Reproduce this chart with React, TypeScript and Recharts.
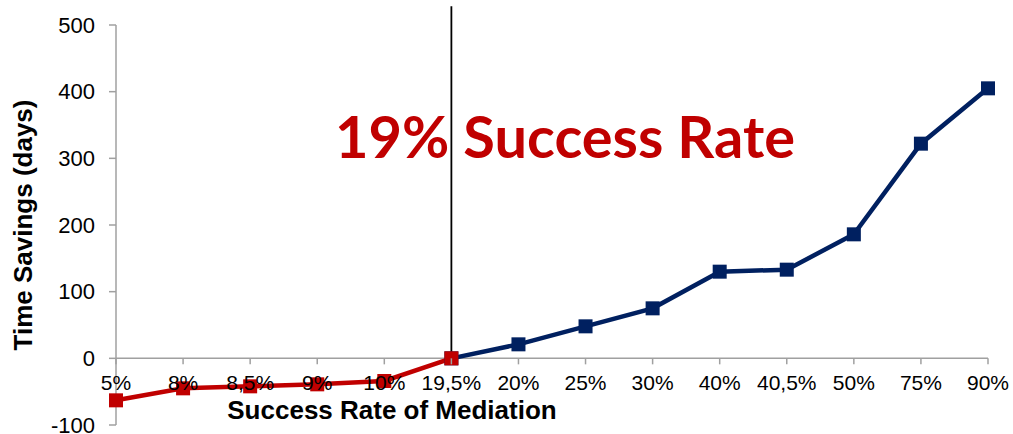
import React from 'react';
import { LineChart, Line, XAxis, YAxis, ReferenceLine, Label } from 'recharts';

const categories = ['5%', '8%', '8,5%', '9%', '10%', '19,5%', '20%', '25%', '30%', '40%', '40,5%', '50%', '75%', '90%'];
const belowValues: (number | null)[] = [-63, -45, -42, -39, -34, 0, null, null, null, null, null, null, null, null];
const aboveValues: (number | null)[] = [null, null, null, null, null, 0, 21, 48, 75, 130, 133, 186, 322, 405];
const yTicks = [-100, 0, 100, 200, 300, 400, 500];
const yDomain: [number, number] = [-100, 500];
const thresholdCategory = '19,5%';
const annotationText = '19% Success Rate';
const xTitle = 'Success Rate of Mediation';
const yTitle = 'Time Savings (days)';

const data = categories.map((c, i) => ({ cat: c, below: belowValues[i], above: aboveValues[i] }));

const W = 1013;
const H = 434;
const X_AXIS_H = 9;
const MARGIN = { top: 25, right: 25, bottom: 0, left: 0 };
const Y_AXIS_W = 116;
const PLOT_H = H - MARGIN.top - MARGIN.bottom - X_AXIS_H;
const zeroY = MARGIN.top + (PLOT_H * (yDomain[1] - 0)) / (yDomain[1] - yDomain[0]);

const RED = '#C00000';
const NAVY = '#002060';
const GRAY = '#A0A0A0';
const FONT = 'Arial, "Liberation Sans", sans-serif';

const makeDot = (color: string) => (props: any) => {
  const { cx, cy, payload, dataKey } = props;
  if (cx == null || cy == null || payload == null || payload[dataKey] == null) return <g key={props.key} />;
  return <rect key={props.key} x={cx - 7} y={cy - 7} width={14} height={14} fill={color} />;
};

const XTick = (props: any) => {
  const { x, payload } = props;
  return (
    <g>
      <line x1={x} x2={x} y1={zeroY} y2={zeroY + 6} stroke={GRAY} strokeWidth={1.5} />
      <text x={x} y={zeroY + 32} textAnchor="middle" fontSize={21} fontFamily={FONT} fill="#000">
        {payload.value}
      </text>
    </g>
  );
};

const XTitle = () => (
  <text x={392} y={419} textAnchor="middle" fontSize={26} fontWeight="bold" fontFamily={FONT} fill="#000">
    {xTitle}
  </text>
);

const YTitle = () => (
  <text
    x={32}
    y={225}
    textAnchor="middle"
    fontSize={26}
    fontWeight="bold"
    fontFamily={FONT}
    fill="#000"
    transform="rotate(-90, 32, 225)"
  >
    {yTitle}
  </text>
);

const Annotation = () => (
  <text
    x={335}
    y={158}
    fontSize={57}
    fontWeight="bold"
    fontFamily="Lato, 'Open Sans', sans-serif"
    fill={RED}
    textLength={460}
    lengthAdjust="spacingAndGlyphs"
  >
    {annotationText}
  </text>
);

export default function App() {
  return (
    <div style={{ position: 'absolute', left: 0, top: 0, background: '#fff' }}>
      <LineChart width={W} height={H} data={data} margin={MARGIN}>
        <XAxis
          dataKey="cat"
          height={X_AXIS_H}
          axisLine={false}
          tickLine={false}
          tick={<XTick />}
          interval={0}
        >
          <Label content={<XTitle />} />
        </XAxis>
        <YAxis
          width={Y_AXIS_W}
          domain={yDomain}
          ticks={yTicks}
          interval={0}
          allowDataOverflow
          axisLine={{ stroke: GRAY, strokeWidth: 1.5 }}
          tickLine={{ stroke: GRAY, strokeWidth: 1.5 }}
          tickSize={7}
          tickMargin={14}
          tick={{ fontSize: 22, fontFamily: FONT, fill: '#000' }}
        >
          <Label content={<YTitle />} />
        </YAxis>
        <ReferenceLine y={0} stroke={GRAY} strokeWidth={1.5} />
        <ReferenceLine
          segment={[{ x: thresholdCategory, y: 0 }, { x: thresholdCategory, y: 528 }]}
          stroke="#000"
          strokeWidth={1.8}
          ifOverflow="visible"
          label={<Annotation />}
        />
        <Line
          dataKey="above"
          stroke={NAVY}
          strokeWidth={4.5}
          dot={makeDot(NAVY)}
          isAnimationActive={false}
          connectNulls={false}
        />
        <Line
          dataKey="below"
          stroke={RED}
          strokeWidth={4.5}
          dot={makeDot(RED)}
          isAnimationActive={false}
          connectNulls={false}
        />
      </LineChart>
    </div>
  );
}
